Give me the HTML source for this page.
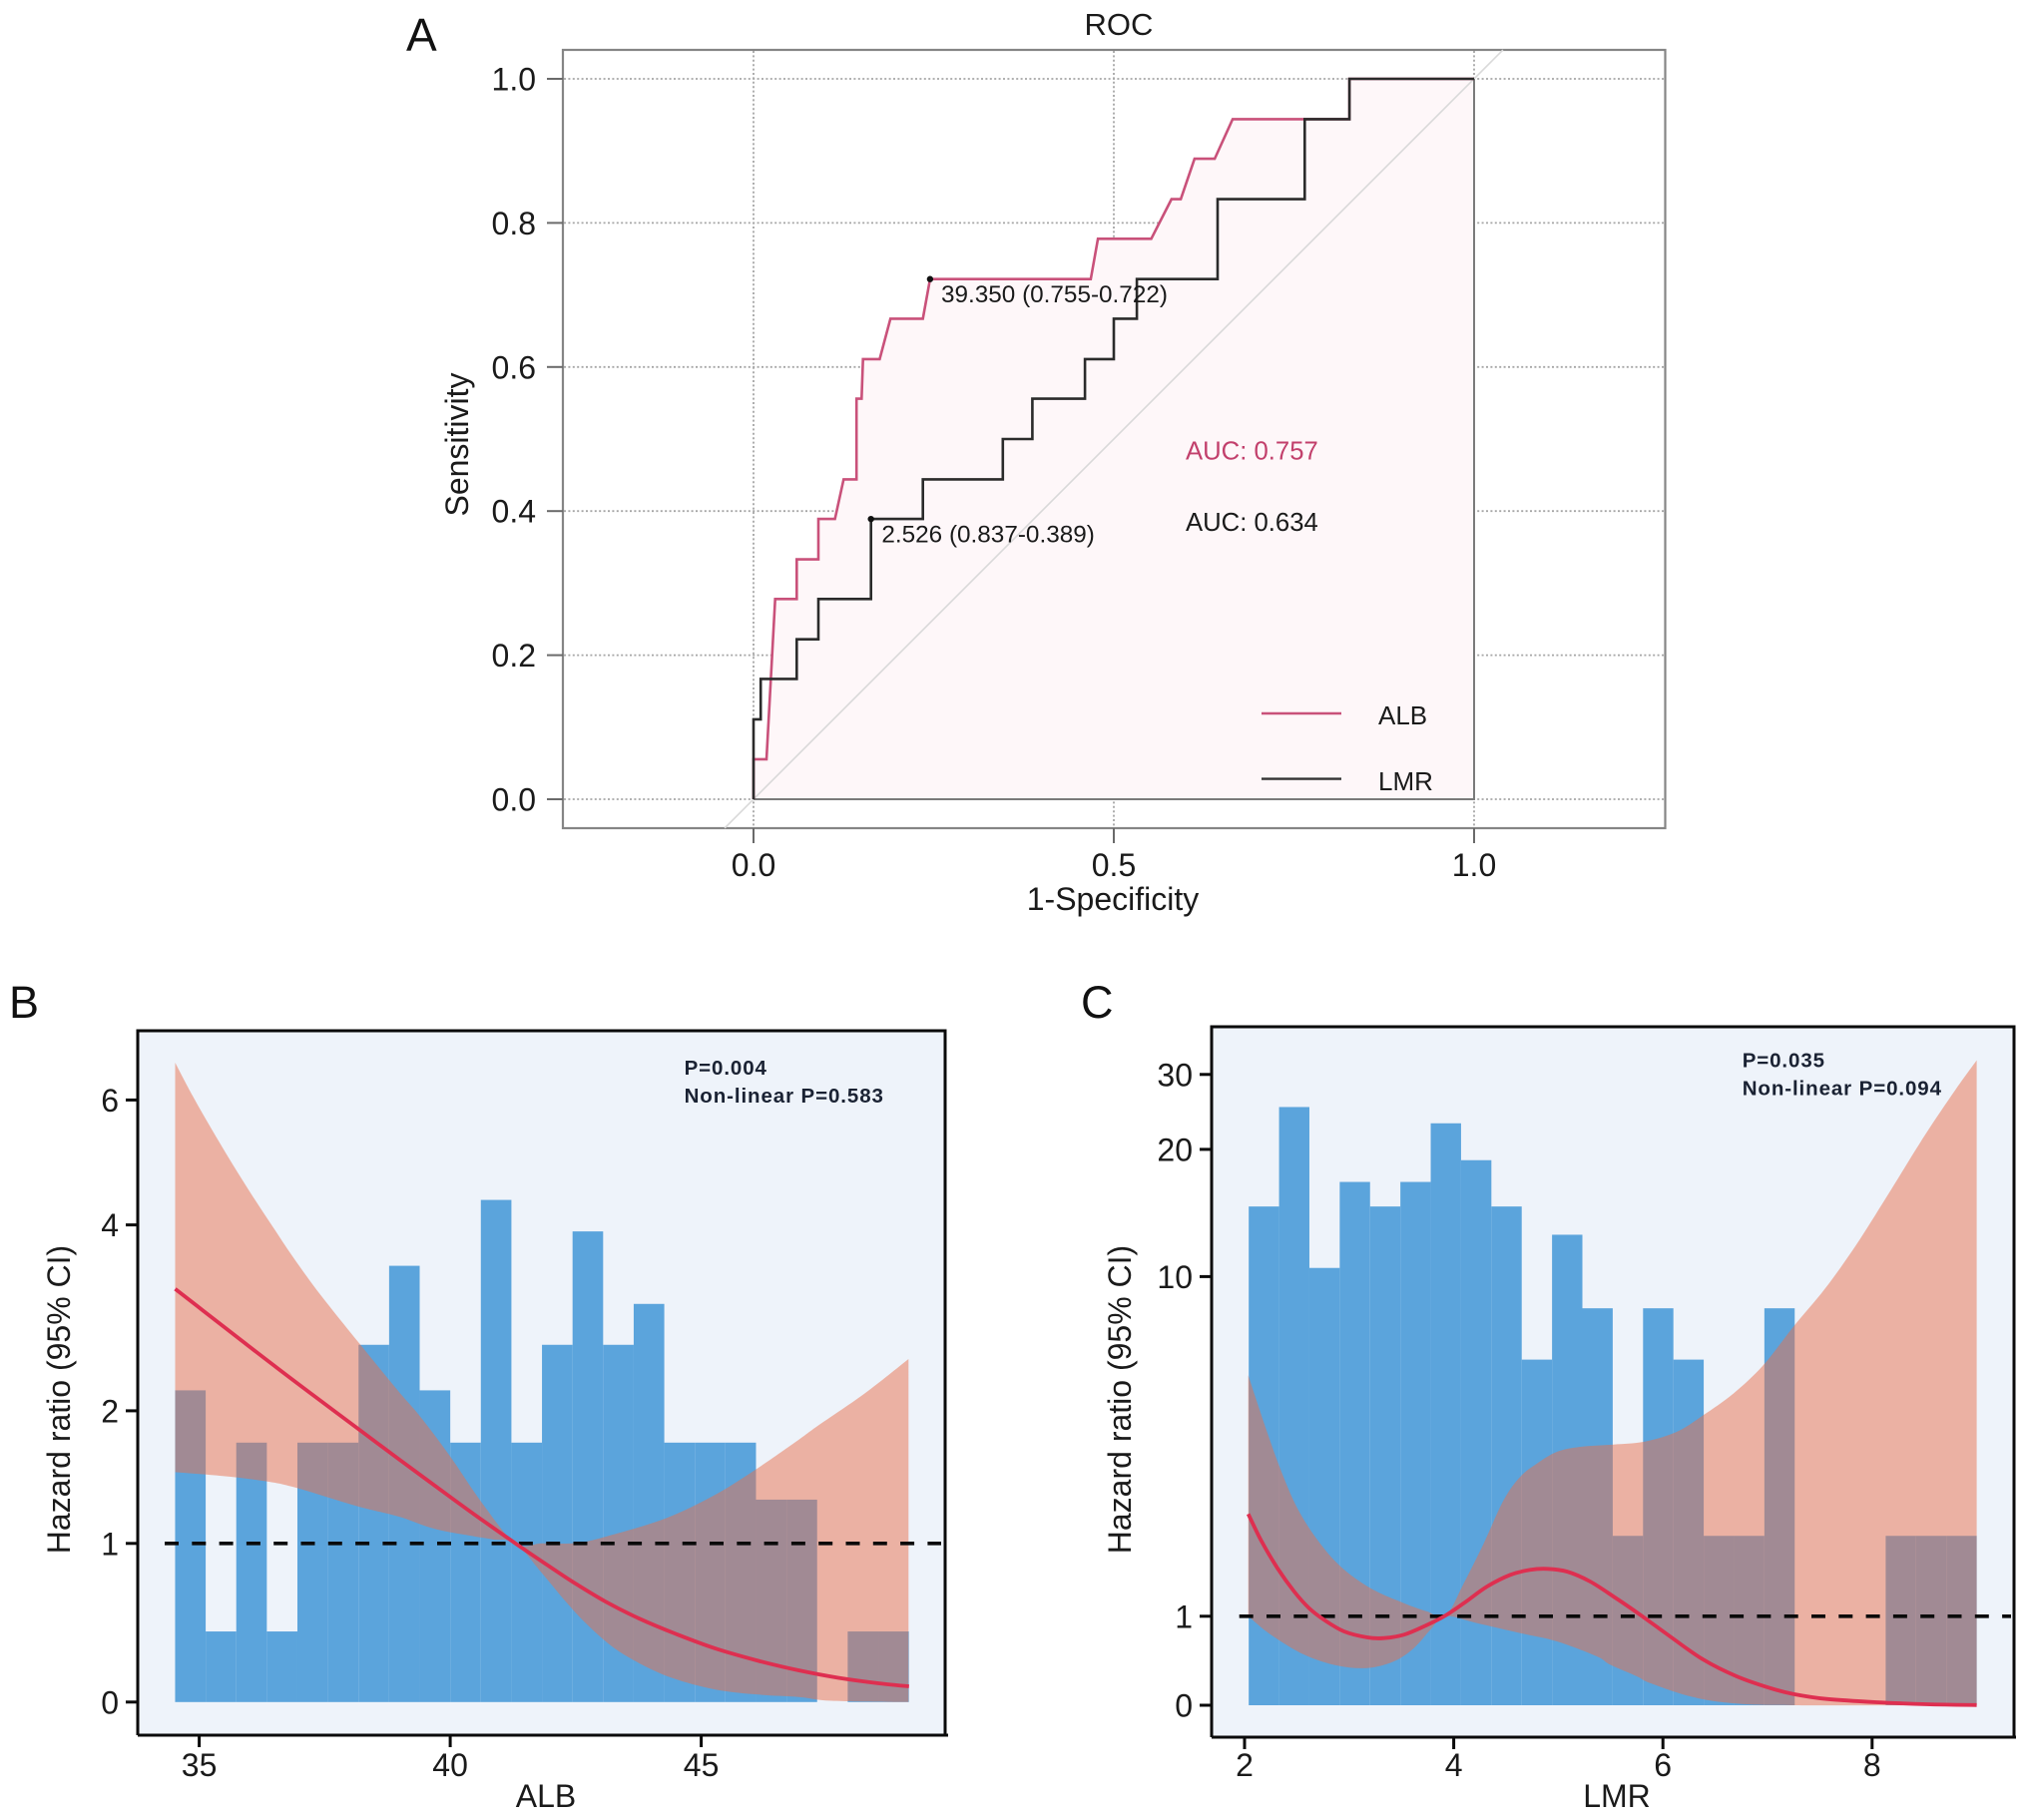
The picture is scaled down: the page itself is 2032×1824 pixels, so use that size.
<!DOCTYPE html>
<html lang="en">
<head>
<meta charset="utf-8">
<title>ROC and restricted cubic spline charts</title>
<style>
html,body{margin:0;padding:0;background:#fff;}
svg{display:block;}
text{font-family:"Liberation Sans",Arial,sans-serif;fill:#1a1a1a;}
.tick{font-size:32px;}
.axis-title{font-size:32px;}
.panel-letter{font-size:45px;fill:#111;}
.note{font-size:20.5px;font-weight:bold;letter-spacing:.9px;fill:#1a2233;}
.roc-note{font-size:24.3px;}
.roc-auc{font-size:25.7px;}
.roc-leg{font-size:26px;}
</style>
</head>
<body>
<svg id="chart" xmlns="http://www.w3.org/2000/svg" width="2032" height="1824" viewBox="0 0 2032 1824">
  <rect x="0" y="0" width="2032" height="1824" fill="#ffffff"/>

  <!-- Panel A -->
  <g id="panel-a">
    <text class="panel-letter" x="407" y="51" style="font-size:46px">A</text>
    <text class="tick" x="1121" y="35" text-anchor="middle" style="font-size:31px">ROC</text>
    <rect x="564" y="50" width="1104.5" height="780" fill="#ffffff" stroke="#858585" stroke-width="2.2"/>
    <g id="roc-marks"></g>
    <text class="roc-note" x="943" y="303">39.350 (0.755-0.722)</text>
    <text class="roc-note" x="883.4" y="543.6">2.526 (0.837-0.389)</text>
    <text class="roc-auc" x="1188" y="460.6" style="fill:#c2406c">AUC: 0.757</text>
    <text class="roc-auc" x="1188" y="532">AUC: 0.634</text>
    <line x1="1264" y1="715" x2="1344" y2="715" stroke="#c9517a" stroke-width="2.4"/>
    <text class="roc-leg" x="1381" y="726">ALB</text>
    <line x1="1264" y1="780.6" x2="1344" y2="780.6" stroke="#333333" stroke-width="2.4"/>
    <text class="roc-leg" x="1381" y="792">LMR</text>
    <text class="axis-title" x="1115" y="912" text-anchor="middle">1-Specificity</text>
    <text class="axis-title" transform="translate(469,445.5) rotate(-90)" text-anchor="middle">Sensitivity</text>
  </g>

  <!-- Panel B -->
  <g id="panel-b">
    <text class="panel-letter" x="9" y="1020">B</text>
    <rect x="138" y="1033" width="809" height="706" fill="#eef3fa"/>
    <g id="alb-marks"></g>
    <path d="M138 1739 V1033 H947 V1739 M138 1739 H950" fill="none" stroke="#0a0a0a" stroke-width="3"/>
    <text class="note" x="685.6" y="1077">P=0.004</text>
    <text class="note" x="685.6" y="1105">Non-linear P=0.583</text>
    <text class="axis-title" x="547" y="1811" text-anchor="middle">ALB</text>
    <text class="axis-title" transform="translate(70,1402.5) rotate(-90)" text-anchor="middle">Hazard ratio (95% CI)</text>
  </g>

  <!-- Panel C -->
  <g id="panel-c">
    <text class="panel-letter" x="1083" y="1020">C</text>
    <rect x="1214" y="1029" width="804" height="712" fill="#eef3fa"/>
    <g id="lmr-marks"></g>
    <path d="M1214 1741 V1029 H2018 V1741 M1214 1741 H2020" fill="none" stroke="#0a0a0a" stroke-width="3"/>
    <text class="note" x="1745.7" y="1069.7">P=0.035</text>
    <text class="note" x="1745.7" y="1097.5">Non-linear P=0.094</text>
    <text class="axis-title" x="1620" y="1811" text-anchor="middle">LMR</text>
    <text class="axis-title" transform="translate(1133,1402.5) rotate(-90)" text-anchor="middle">Hazard ratio (95% CI)</text>
  </g>
</svg>

<script>
// ROC data
const rocXTicks = [0, 0.5, 1];
const rocYTicks = [0, 0.2, 0.4, 0.6, 0.8, 1];
const albFpr = [0,0,0.018,0.03,0.06,0.06,0.09,0.09,0.113,0.125,0.143,0.143,0.15,0.152,0.175,0.19,0.235,0.245,0.468,0.478,0.552,0.58,0.593,0.612,0.64,0.665,0.765,0.827,0.827,1];
const albTpr = [0,0.0556,0.0556,0.278,0.278,0.333,0.333,0.389,0.389,0.444,0.444,0.556,0.556,0.611,0.611,0.667,0.667,0.722,0.722,0.778,0.778,0.833,0.833,0.889,0.889,0.944,0.944,0.944,1,1];
const lmrFpr = [0,0,0.01,0.01,0.06,0.06,0.09,0.09,0.163,0.163,0.235,0.235,0.346,0.346,0.387,0.387,0.46,0.46,0.5,0.5,0.532,0.532,0.644,0.644,0.765,0.765,0.827,0.827,1];
const lmrTpr = [0,0.111,0.111,0.167,0.167,0.222,0.222,0.278,0.278,0.389,0.389,0.444,0.444,0.5,0.5,0.556,0.556,0.611,0.611,0.667,0.667,0.722,0.722,0.833,0.833,0.944,0.944,1,1];
const albCutoff = [0.245, 0.722];
const lmrCutoff = [0.163, 0.389];

// ALB spline data
const albXTicks = [35, 40, 45];
const albYTicks = [0, 1, 2, 4, 6];
const albBinStart = 34.52;
const albBinWidth = 0.609;
const albBars = [2.22,0.445,1.76,0.445,1.76,1.76,2.71,3.56,2.22,1.76,4.40,1.76,2.71,3.93,2.71,3.15,1.76,1.76,1.76,1.33,1.33,0,0.445,0.445];
const albCurveX = [34.52,35.07,35.80,36.53,37.26,38.19,38.98,39.98,40.64,41.30,41.83,42.43,43.09,43.76,44.49,45.28,46.14,46.94,47.73,48.53,49.14];
const albCurveHR = [3.312,3.081,2.774,2.470,2.172,1.857,1.634,1.356,1.175,1.0,0.886,0.760,0.634,0.527,0.430,0.338,0.260,0.200,0.153,0.118,0.099];
const albUpperX = [34.52,34.87,35.27,35.67,36.07,36.47,36.86,37.39,38.19,38.98,39.38,39.98,40.64,41.30,41.83,42.56,43.22,44.29,45.28,46.11,46.94,47.31,48.27,49.13];
const albUpperHR = [6.597,6.064,5.502,4.965,4.454,3.976,3.661,3.266,2.725,2.203,1.967,1.666,1.302,1.0,1.0,1.005,1.064,1.189,1.367,1.563,1.781,1.883,2.192,2.557];
const albLowerX = [34.52,35.47,36.36,36.95,38.13,38.98,39.65,40.31,40.84,41.30,41.83,42.30,42.70,43.22,43.76,44.42,45.28,46.14,46.94,47.6,49.13];
const albLowerHR = [1.537,1.508,1.467,1.418,1.283,1.202,1.114,1.064,1.031,1.0,0.812,0.634,0.497,0.351,0.246,0.152,0.079,0.047,0.032,0.008,0];

// LMR spline data
const lmrXTicks = [2, 4, 6, 8];
const lmrYTicks = [0, 1, 10, 20, 30];
const lmrBinStart = 2.04;
const lmrBinWidth = 0.29;
const lmrBars = [15.51,25.65,10.68,17.44,15.51,17.44,23.48,19.15,15.51,7.80,13.29,9.16,3.13,9.16,7.80,3.13,3.13,9.16,0,0,0,3.13,3.13,3.13];
const lmrCurveX = [2.035,2.156,2.315,2.474,2.617,2.760,2.951,3.174,3.333,3.524,3.715,3.906,4.096,4.319,4.541,4.732,4.891,5.082,5.304,5.527,5.782,6.068,6.386,6.704,7.022,7.245,7.563,8.040,8.52,9.0];
const lmrCurveHR = [3.710,3.023,2.272,1.656,1.214,0.961,0.830,0.762,0.754,0.793,0.886,0.998,1.346,1.788,2.097,2.230,2.256,2.185,1.920,1.524,1.040,0.774,0.512,0.325,0.194,0.127,0.071,0.034,0.011,0.002];
const lmrUpperX = [2.035,2.188,2.346,2.506,2.697,2.919,3.205,3.524,3.746,3.921,4.096,4.287,4.478,4.636,4.796,4.987,5.209,5.527,5.814,6.132,6.386,6.673,6.959,7.245,7.552,7.847,8.143,8.498,8.794,9.0];
const lmrUpperHR = [7.386,6.106,4.874,3.858,3.023,2.317,1.743,1.346,1.127,1.0,1.875,2.933,4.080,4.696,5.048,5.357,5.490,5.551,5.622,5.886,6.328,6.899,7.650,8.663,9.686,12.478,16.322,21.744,27.896,31.891];
const lmrLowerX = [2.035,2.251,2.570,2.887,3.174,3.428,3.619,3.778,3.921,4.223,4.636,4.987,5.368,5.495,5.750,5.877,6.258,6.640,7.245,9.0];
const lmrLowerHR = [1.0,0.793,0.568,0.445,0.418,0.493,0.642,0.849,1.0,0.923,0.811,0.717,0.549,0.456,0.325,0.25,0.101,0.026,0,0];

const SVG_NS = 'http://www.w3.org/2000/svg';

function add(parent, tag, attrs) {
  const el = document.createElementNS(SVG_NS, tag);
  for (const k in attrs) el.setAttribute(k, attrs[k]);
  parent.appendChild(el);
  return el;
}

function interp(v, domain, range) {
  let i = 0;
  while (i < domain.length - 2 && v > domain[i + 1]) i++;
  const t = (v - domain[i]) / (domain[i + 1] - domain[i]);
  return range[i] + t * (range[i + 1] - range[i]);
}

// Axis functions
function rocX(v) { return 755 + v * 722; }
function rocY(v) { return 801 - v * 722; }
function albX(v) { return 199.6 + (v - 35) * 50.3; }
function albY(v) { return interp(v, [0, 1, 2, 4, 6], [1705.8, 1546.8, 1413.9, 1227.6, 1102.4]); }
function lmrX(v) { return 1247 + (v - 2) * 104.8; }
function lmrY(v) { return interp(v, [0, 1, 10, 20, 30], [1709, 1619.8, 1279.4, 1151.9, 1076.8]); }

function toPoints(xs, ys, sx, sy) {
  return xs.map(function (x, i) { return [sx(x), sy(ys[i])]; });
}

function smoothPath(pts, joiner) {
  let d = joiner + pts[0][0].toFixed(1) + ' ' + pts[0][1].toFixed(1);
  for (let i = 0; i < pts.length - 1; i++) {
    const p0 = pts[Math.max(i - 1, 0)];
    const p1 = pts[i];
    const p2 = pts[i + 1];
    const p3 = pts[Math.min(i + 2, pts.length - 1)];
    const c1x = p1[0] + (p2[0] - p0[0]) / 6;
    const c1y = p1[1] + (p2[1] - p0[1]) / 6;
    const c2x = p2[0] - (p3[0] - p1[0]) / 6;
    const c2y = p2[1] - (p3[1] - p1[1]) / 6;
    d += ' C' + c1x.toFixed(1) + ' ' + c1y.toFixed(1) + ' ' + c2x.toFixed(1) + ' ' + c2y.toFixed(1) + ' ' + p2[0].toFixed(1) + ' ' + p2[1].toFixed(1);
  }
  return d;
}

function linePath(pts) {
  return pts.map(function (p, i) { return (i ? 'L' : 'M') + p[0].toFixed(1) + ' ' + p[1].toFixed(1); }).join(' ');
}

// ---- ROC panel ----
(function drawRoc() {
  const g = document.getElementById('roc-marks');
  rocYTicks.forEach(function (t) {
    const grid = add(g, 'line', { x1: 565, x2: 1667, y1: rocY(t), y2: rocY(t), stroke: '#a6a6a6', 'stroke-width': 1.8, 'stroke-dasharray': '2 2.4' });
    
    
    const mark = add(g, 'line', { x1: 548, x2: 564, y1: rocY(t), y2: rocY(t), stroke: '#6a6a6a', 'stroke-width': 2 });
    
    
    const label = add(g, 'text', { class: 'tick', x: 537, y: rocY(t) + 11.5, 'text-anchor': 'end' });
    
    
    label.textContent = t.toFixed(1);
  });
  rocXTicks.forEach(function (t) {
    const grid = add(g, 'line', { x1: rocX(t), x2: rocX(t), y1: 51, y2: 829, stroke: '#a6a6a6', 'stroke-width': 1.8, 'stroke-dasharray': '2 2.4' });
    
    
    const mark = add(g, 'line', { x1: rocX(t), x2: rocX(t), y1: 830, y2: 845, stroke: '#6a6a6a', 'stroke-width': 2 });
    
    
    const label = add(g, 'text', { class: 'tick', x: rocX(t), y: 878, 'text-anchor': 'middle' });
    
    
    label.textContent = t.toFixed(1);
  });
  const albPts = toPoints(albFpr, albTpr, rocX, rocY);
  const lmrPts = toPoints(lmrFpr, lmrTpr, rocX, rocY);

  const fill = add(g, 'path', { d: linePath(albPts) + ' L' + rocX(1) + ' ' + rocY(0) + ' Z', fill: '#fef7f9' });
  
  

  const diag = add(g, 'line', { x1: rocX(-0.04), y1: rocY(-0.04), x2: rocX(1.04), y2: rocY(1.04), stroke: '#d9d9d9', 'stroke-width': 1.6 });
  
  

  const square = add(g, 'path', { d: 'M' + rocX(0) + ' ' + rocY(0) + ' H' + rocX(1) + ' V' + rocY(1), fill: 'none', stroke: '#7a7a7a', 'stroke-width': 2 });
  
  

  const albLine = add(g, 'path', { d: linePath(albPts), fill: 'none', stroke: '#c9517a', 'stroke-width': 2.6 });
  
  

  const lmrLine = add(g, 'path', { d: linePath(lmrPts), fill: 'none', stroke: '#2b2b2b', 'stroke-width': 2.6 });
  
  

  const dotA = add(g, 'circle', { cx: rocX(albCutoff[0]), cy: rocY(albCutoff[1]), r: 3.2, fill: '#111111' });
  
  

  const dotL = add(g, 'circle', { cx: rocX(lmrCutoff[0]), cy: rocY(lmrCutoff[1]), r: 3.2, fill: '#111111' });
  
  
})();

// ---- Spline panels ----
function drawHazard(g, prefix, sx, sy, cfg) {
  cfg.bars.forEach(function (v, i) {
    const x0 = sx(cfg.binStart + i * cfg.binWidth);
    const x1 = sx(cfg.binStart + (i + 1) * cfg.binWidth);
    const bar = add(g, 'rect', { x: x0, width: x1 - x0, y: sy(v), height: sy(0) - sy(v), fill: '#5ba4dc' });
    
    
  });
  const up = toPoints(cfg.upperX, cfg.upperHR, sx, sy);
  const low = toPoints(cfg.lowerX, cfg.lowerHR, sx, sy).reverse();
  const ribbon = add(g, 'path', { d: smoothPath(up, 'M') + ' ' + smoothPath(low, 'L') + ' Z', fill: 'rgb(232,111,76)', 'fill-opacity': 0.5 });
  
  

  const refLine = add(g, 'line', { x1: cfg.dashFrom, x2: cfg.dashTo, y1: sy(1), y2: sy(1), stroke: '#0a0a0a', 'stroke-width': 3.6, 'stroke-dasharray': '14 13.3' });
  
  

  const curve = add(g, 'path', { d: smoothPath(toPoints(cfg.curveX, cfg.curveHR, sx, sy), 'M'), fill: 'none', stroke: '#de2f50', 'stroke-width': 3.8 });
  
  

  cfg.xTicks.forEach(function (t) {
    const mark = add(g, 'line', { x1: sx(t), x2: sx(t), y1: cfg.frameBottom, y2: cfg.frameBottom + 12, stroke: '#0a0a0a', 'stroke-width': 3 });
    
    
    const label = add(g, 'text', { class: 'tick', x: sx(t), y: 1780, 'text-anchor': 'middle' });
    
    
    label.textContent = t;
  });
  cfg.yTicks.forEach(function (t) {
    const mark = add(g, 'line', { x1: cfg.frameLeft - 12, x2: cfg.frameLeft, y1: sy(t), y2: sy(t), stroke: '#0a0a0a', 'stroke-width': 3 });
    
    
    const label = add(g, 'text', { class: 'tick', x: cfg.frameLeft - 19, y: sy(t) + 11.5, 'text-anchor': 'end' });
    
    
    label.textContent = t;
  });
}

drawHazard(document.getElementById('alb-marks'), 'alb', albX, albY, {
  bars: albBars, binStart: albBinStart, binWidth: albBinWidth,
  curveX: albCurveX, curveHR: albCurveHR,
  upperX: albUpperX, upperHR: albUpperHR,
  lowerX: albLowerX, lowerHR: albLowerHR,
  xTicks: albXTicks, yTicks: albYTicks,
  frameLeft: 138, frameBottom: 1739, dashFrom: 165, dashTo: 943
});

drawHazard(document.getElementById('lmr-marks'), 'lmr', lmrX, lmrY, {
  bars: lmrBars, binStart: lmrBinStart, binWidth: lmrBinWidth,
  curveX: lmrCurveX, curveHR: lmrCurveHR,
  upperX: lmrUpperX, upperHR: lmrUpperHR,
  lowerX: lmrLowerX, lowerHR: lmrLowerHR,
  xTicks: lmrXTicks, yTicks: lmrYTicks,
  frameLeft: 1214, frameBottom: 1741, dashFrom: 1241.7, dashTo: 2015
});
</script>
</body>
</html>
